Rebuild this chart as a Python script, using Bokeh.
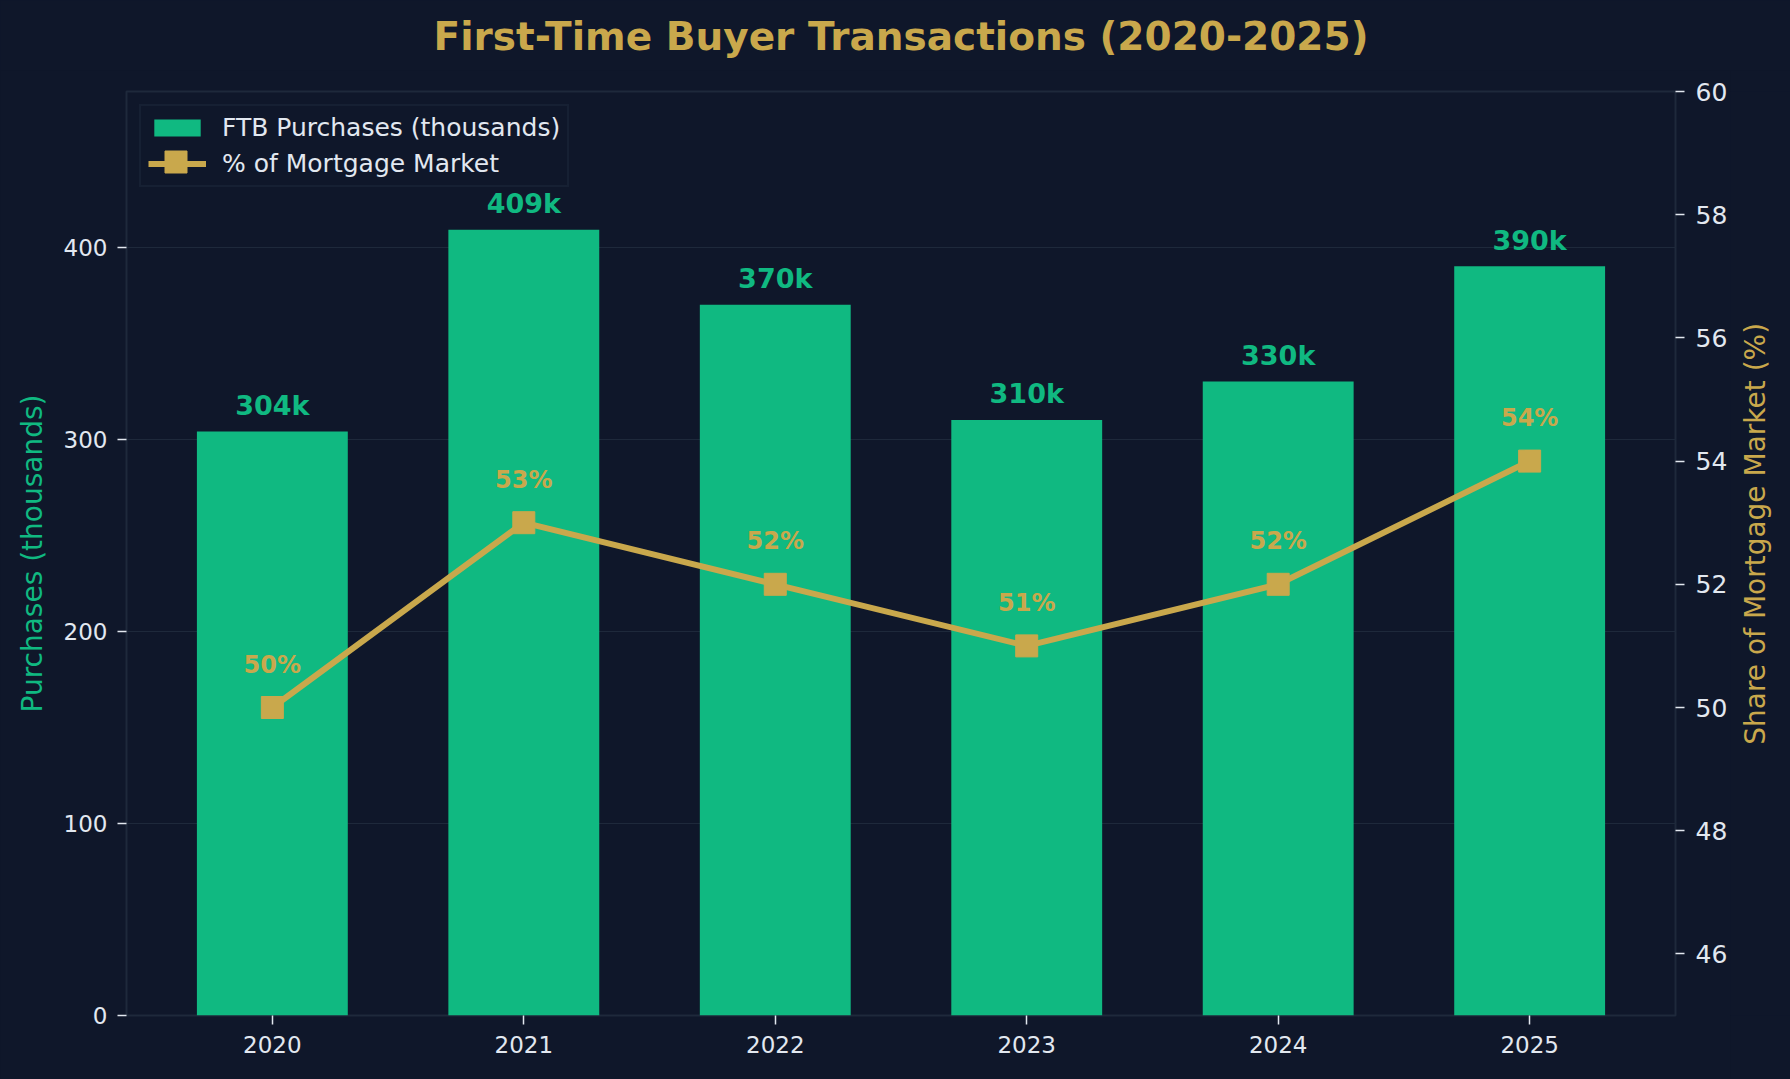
import math

from bokeh.plotting import figure
from bokeh.layouts import column, row
from bokeh.models import (ColumnDataSource, Range1d, LinearAxis, FixedTicker,
                          Legend, LegendItem)
from bokeh.core.properties import value
from bokeh.embed import file_html
from bokeh.resources import INLINE

# --- data -------------------------------------------------------------
years = [2020, 2021, 2022, 2023, 2024, 2025]
purchases = [304, 409, 370, 310, 330, 390]        # thousands
market_share = [50, 53, 52, 51, 52, 54]           # % of mortgage market
left_ticks = [0, 100, 200, 300, 400]
right_ticks = [46, 48, 50, 52, 54, 56, 58, 60]

TITLE = "First-Time Buyer Transactions (2020-2025)"
LEFT_LABEL = "Purchases (thousands)"
RIGHT_LABEL = "Share of Mortgage Market (%)"

# --- styling ----------------------------------------------------------
BG = "#0f172a"
GREEN = "#10b981"
GOLD = "#c9a84c"
TEXT = "#e2e8f0"
GRID = "#1e293b"
FONT = "DejaVu Sans"
AXIS_TITLE_SIZE = "28px"

# page geometry (pixels)
PAGE_W, PAGE_H = 1790, 1079
HEAD_H = 70            # title strip
SIDE_W = 60            # strip holding the right-hand axis title
MAIN_W = PAGE_W - SIDE_W
MAIN_H = PAGE_H - HEAD_H
BORDER_L, BORDER_R, BORDER_T, BORDER_B = 126, 55, 21, 64
FRAME_CX = BORDER_L + (MAIN_W - BORDER_L - BORDER_R) / 2
FRAME_CY = BORDER_T + (MAIN_H - BORDER_T - BORDER_B) / 2


def strip(width, height):
    """A bare figure used only to carry text outside the main plot."""
    f = figure(width=width, height=height, output_backend="svg",
               toolbar_location=None, x_axis_type=None, y_axis_type=None,
               x_range=Range1d(0, width), y_range=Range1d(0, height),
               min_border=0, background_fill_color=BG, border_fill_color=BG)
    f.outline_line_color = None
    f.grid.grid_line_color = None
    return f


# --- title strip --------------------------------------------------------
head = strip(PAGE_W, HEAD_H)
head.text(x=[FRAME_CX], y=[HEAD_H - 36], text=[TITLE],
          text_font=value(FONT), text_font_style="bold", text_font_size="39px",
          text_color=GOLD, text_align="center", text_baseline="alphabetic")

# --- main chart -----------------------------------------------------------
src = ColumnDataSource(dict(
    year=years,
    purchases=purchases,
    share=market_share,
    bar_label=[f"{v}k" for v in purchases],
    share_label=[f"{v}%" for v in market_share],
))

p = figure(
    width=MAIN_W, height=MAIN_H,
    output_backend="svg", toolbar_location=None,
    x_range=Range1d(2019.42, 2025.58),
    y_range=Range1d(0, 481),
    min_border_left=BORDER_L, min_border_right=BORDER_R,
    min_border_top=BORDER_T, min_border_bottom=BORDER_B,
    background_fill_color=BG, border_fill_color=BG,
)
p.extra_y_ranges = {"share": Range1d(45, 60)}

p.outline_line_color = GRID
p.outline_line_width = 2

# grid
p.xgrid.grid_line_color = None
left_ticker = FixedTicker(ticks=left_ticks)
p.ygrid.ticker = left_ticker
p.ygrid.grid_line_color = GRID
p.ygrid.grid_line_width = 1

# bottom axis
xa = p.xaxis[0]
xa.ticker = FixedTicker(ticks=years)
xa.axis_line_color = None
xa.major_tick_line_color = TEXT
xa.major_tick_line_width = 1.5
xa.major_tick_out = 9
xa.major_tick_in = 0
xa.major_label_standoff = 11
xa.major_label_text_font = FONT
xa.major_label_text_font_size = "23px"
xa.major_label_text_color = TEXT

# left axis
ya = p.yaxis[0]
ya.ticker = left_ticker
ya.axis_line_color = None
ya.major_tick_line_color = TEXT
ya.major_tick_line_width = 1.5
ya.major_tick_out = 9
ya.major_tick_in = 0
ya.major_label_standoff = 10
ya.major_label_text_font = FONT
ya.major_label_text_font_size = "23px"
ya.major_label_text_color = TEXT
ya.axis_label = LEFT_LABEL
ya.axis_label_text_font = FONT
ya.axis_label_text_font_size = AXIS_TITLE_SIZE
ya.axis_label_text_font_style = "normal"
ya.axis_label_text_color = GREEN
ya.axis_label_standoff = 12

# right axis for market share (its title sits in the side strip)
ra = LinearAxis(y_range_name="share", ticker=FixedTicker(ticks=right_ticks))
ra.axis_line_color = None
ra.major_tick_line_color = TEXT
ra.major_tick_line_width = 1.5
ra.major_tick_out = 9
ra.major_tick_in = 0
ra.major_label_standoff = 11
ra.major_label_text_font = FONT
ra.major_label_text_font_size = "25px"
ra.major_label_text_color = TEXT
p.add_layout(ra, "right")

# bars
bars = p.vbar(x="year", top="purchases", width=0.6, source=src,
              fill_color=GREEN, line_color=None)

# share line with square markers
share_line = p.line(x="year", y="share", y_range_name="share", source=src,
                    line_color=GOLD, line_width=6)
share_pts = p.scatter(x="year", y="share", y_range_name="share", source=src,
                      marker="square", size=22, fill_color=GOLD, line_color=GOLD)

# value labels
p.text(x="year", y="purchases", text="bar_label", source=src,
       text_font=value(FONT), text_font_style="bold", text_font_size="27px",
       text_color=GREEN, text_align="center", text_baseline="alphabetic",
       y_offset=-26)
p.text(x="year", y="share", text="share_label", source=src, y_range_name="share",
       text_font=value(FONT), text_font_style="bold", text_font_size="24px",
       text_color=GOLD, text_align="center", text_baseline="alphabetic",
       y_offset=-43)

# legend
legend = Legend(
    items=[
        LegendItem(label="FTB Purchases (thousands)", renderers=[bars]),
        LegendItem(label="% of Mortgage Market", renderers=[share_line]),
    ],
    location="top_left", margin=13, padding=7, spacing=7,
    glyph_width=58, glyph_height=21, label_height=21, label_standoff=16,
    label_text_font=FONT, label_text_font_size="25px", label_text_color=TEXT,
    background_fill_color=BG, background_fill_alpha=0.9,
    border_line_color=GRID, border_line_width=2,
)
p.add_layout(legend)

# square marker drawn over the line entry of the legend
marker_key = Legend(
    items=[LegendItem(label="", renderers=[share_pts])],
    location=(21.5, 826), margin=0, padding=0, spacing=0,
    glyph_width=55, glyph_height=55, label_width=0, label_height=0,
    label_standoff=0, border_line_color=None, background_fill_alpha=0,
)
p.add_layout(marker_key)

# --- right-hand axis title strip -----------------------------------------
side = strip(SIDE_W, MAIN_H)
side.text(x=[1755 - MAIN_W], y=[MAIN_H - FRAME_CY], text=[RIGHT_LABEL],
          angle=math.pi / 2, text_font=value(FONT),
          text_font_size=AXIS_TITLE_SIZE,
          text_color=GOLD, text_align="center", text_baseline="middle")

page = column(head, row(p, side, spacing=0), spacing=0)
page.background = BG

open("out.html", "w").write(file_html(page, INLINE))
